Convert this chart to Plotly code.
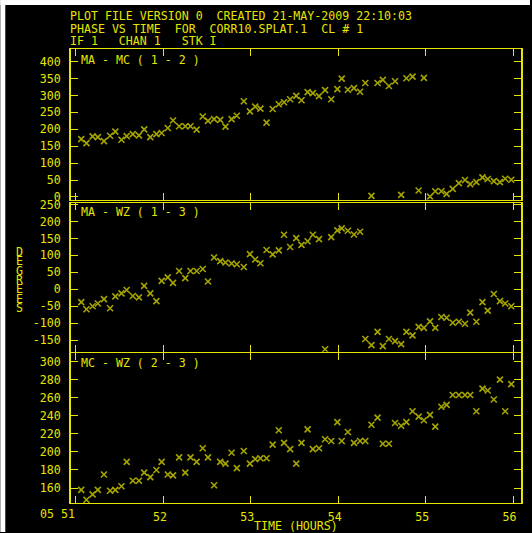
import plotly.graph_objects as go

# ---- data -------------------------------------------------------------
times = [51.06, 51.12, 51.19, 51.25, 51.32, 51.39, 51.45, 51.52, 51.58, 51.65, 51.72, 51.78, 51.85, 51.92, 51.98,
         52.05, 52.11, 52.18, 52.25, 52.31, 52.38, 52.45, 52.51, 52.58, 52.65, 52.71, 52.78, 52.84, 52.92, 52.99,
         53.05, 53.11, 53.18, 53.25, 53.32, 53.38, 53.45, 53.52, 53.58, 53.65, 53.71, 53.78, 53.85, 53.92, 53.99,
         54.04, 54.11, 54.18, 54.25, 54.31, 54.38, 54.45, 54.51, 54.58, 54.65, 54.72, 54.78, 54.85, 54.92, 54.98,
         55.05, 55.11, 55.18, 55.24, 55.31, 55.38, 55.45, 55.51, 55.58, 55.65, 55.71, 55.78, 55.85, 55.91, 55.98]

phase_ma_mc = [171, 159, 179, 177, 165, 181, 193, 169, 180, 186, 182, 200, 177, 186, 189,
               204, 226, 209, 209, 209, 199, 238, 225, 230, 228, 208, 230, 240, 283, 253,
               267, 261, 220, 260, 274, 280, 289, 299, 286, 310, 307, 298, 316, 289, 319,
               350, 317, 322, 311, 337, 3, 337, 346, 328, 342, 6, 351, 356, 19, 352,
               1, 17, 17, 9, 24, 41, 50, 38, 44, 58, 53, 47, 44, 54, 51]

phase_ma_wz = [-38, -59, -50, -42, -29, -56, -21, -12, -2, -20, -24, 10, -12, -35, 25,
               35, 19, 54, 33, 54, 54, 60, 23, 94, 83, 79, 76, 74, 66, 104,
               88, 77, 116, 103, 115, 161, 125, 151, 131, 142, 161, 148, -177, 154, 174,
               180, 173, 162, 170, -147, -165, -126, -168, -147, -153, -162, -126, -136, -111, -114,
               -95, -114, -82, -84, -99, -96, -102, -69, -96, -38, -63, -14, -35, -42, -50]

phase_mc_wz = [158, 147, 153, 158, 175, 157, 158, 162, 189, 168, 168, 177, 172, 180, 189,
               175, 174, 194, 177, 194, 189, 204, 194, 163, 189, 187, 199, 182, 201, 187,
               192, 193, 193, 208, 224, 210, 203, 187, 210, 225, 203, 204, 214, 212, 233,
               212, 222, 210, 212, 212, 230, 238, 209, 209, 232, 229, 233, 245, 239, 235,
               241, 228, 250, 252, 263, 263, 263, 263, 245, 270, 268, 258, 280, 245, 275]

panel_labels = ["MA - MC ( 1 - 2 )", "MA - WZ ( 1 - 3 )", "MC - WZ ( 2 - 3 )"]
header_lines = ["PLOT FILE VERSION 0  CREATED 21-MAY-2009 22:10:03",
                "PHASE VS TIME  FOR  CORR10.SPLAT.1  CL # 1",
                "IF 1   CHAN 1   STK I"]
x_tickvals = [51, 52, 53, 54, 55, 56]
x_ticktext = ["", "52", "53", "54", "55", "56"]
first_x_label = "05 51"
y1_ticks = [0, 50, 100, 150, 200, 250, 300, 350, 400]
y2_ticks = [-150, -100, -50, 0, 50, 100, 150, 200, 250]
y3_ticks = [160, 180, 200, 220, 240, 260, 280, 300]
y_title = "DEGREES"
x_title = "TIME (HOURS)"

# ---- style ------------------------------------------------------------
FRAME = "#e6e600"
TEXT = "#e6e600"
MARK = "#a4a400"
FONT = "DejaVu Sans Mono"
FS = 11.6

W, H = 532, 533
ML, MR, MT, MB = 71, 9, 49, 29
PW, PH = W - ML - MR, H - MT - MB


def px2x(px):
    return (px - ML) / PW


def py2y(py):
    return (H - MB - py) / PH


def nb(s):
    return s.replace(" ", "\u00a0")


fig = go.Figure()
series = [phase_ma_mc, phase_ma_wz, phase_mc_wz]
for i, vals in enumerate(series):
    fig.add_trace(go.Scatter(
        x=times, y=vals, mode="markers",
        xaxis="x" if i == 0 else f"x{i+1}",
        yaxis="y" if i == 0 else f"y{i+1}",
        marker=dict(symbol="x-thin", size=6, color=MARK,
                    line=dict(color=MARK, width=1.6)),
        showlegend=False, hoverinfo="skip"))

# panel 1/2 separated by a double line, panel 2/3 share a single line
domains = [[py2y(200.2), 1.0], [py2y(352.5), py2y(203.2)], [0.0, py2y(353.5)]]
yranges = [[-8.6, 437.5], [-184.8, 255.3], [143.4, 309.7]]
yticks = [y1_ticks, y2_ticks, y3_ticks]
xrange_ = [50.943, 56.091]

common_axis = dict(showgrid=False, zeroline=False, showline=True, linecolor=FRAME,
                   mirror="ticks", ticks="inside", tickcolor=FRAME,
                   tickwidth=1.3, ticklen=7,
                   tickfont=dict(family=FONT, size=FS, color=TEXT))

layout = dict(width=W, height=H, autosize=False,
              margin=dict(l=ML, r=MR, t=MT, b=MB, pad=0),
              paper_bgcolor="black", plot_bgcolor="black",
              font=dict(family=FONT, size=FS, color=TEXT))

for i in range(3):
    xa = "xaxis" if i == 0 else f"xaxis{i+1}"
    ya = "yaxis" if i == 0 else f"yaxis{i+1}"
    yid = "y" if i == 0 else f"y{i+1}"
    xid = "x" if i == 0 else f"x{i+1}"
    layout[xa] = dict(common_axis, linewidth=1, domain=[0, 1], range=xrange_, anchor=yid,
                      tickvals=x_tickvals,
                      ticktext=[nb(t + " ") if t else "" for t in x_ticktext],
                      showticklabels=(i == 2), ticklabelstandoff=3)
    layout[ya] = dict(common_axis, linewidth=2, domain=domains[i], range=yranges[i], anchor=xid,
                      tickvals=yticks[i], ticktext=[str(v) for v in yticks[i]],
                      ticklabelstandoff=6)

fig.update_layout(**layout)

ann = []
# header
for k, line in enumerate(header_lines):
    ann.append(dict(text=nb(line), xref="paper", yref="paper", x=px2x(68.3),
                    y=py2y(16 + 12.5 * k), xanchor="left", yanchor="middle",
                    showarrow=False, font=dict(family=FONT, size=FS, color=TEXT)))
# panel labels
label_py = [60, 212.3, 363.3]
for lab, py in zip(panel_labels, label_py):
    ann.append(dict(text=nb(lab), xref="paper", yref="paper", x=px2x(79.5),
                    y=py2y(py), xanchor="left", yanchor="middle", showarrow=False,
                    font=dict(family=FONT, size=FS, color=TEXT)))
# vertical y title: letters stacked tightly (small line spacing, full-size glyphs)
stacked = "<br>".join(f"<span style='font-size:{FS}px'>{ch}</span>" for ch in y_title)
ann.append(dict(text=stacked, xref="paper", yref="paper", x=px2x(19),
                y=py2y(280.5), xanchor="center", yanchor="middle",
                showarrow=False, font=dict(family=FONT, size=7.2, color=TEXT)))
# x title
ann.append(dict(text=nb(x_title), xref="paper", yref="paper", x=px2x(297),
                y=py2y(527), xanchor="center", yanchor="middle", showarrow=False,
                font=dict(family=FONT, size=FS, color=TEXT)))
# first x tick label
ann.append(dict(text=nb(first_x_label), xref="x3", yref="paper", x=x_tickvals[0],
                y=py2y(515), xanchor="right", yanchor="middle", xshift=1.5,
                showarrow=False, font=dict(family=FONT, size=FS, color=TEXT)))
fig.update_layout(annotations=ann)

# white border strips at the top and left of the screenshot
fig.update_layout(shapes=[
    dict(type="rect", xref="paper", yref="paper", x0=px2x(0), x1=px2x(5),
         y0=py2y(H), y1=py2y(0), fillcolor="white", line=dict(width=0), layer="above"),
    dict(type="rect", xref="paper", yref="paper", x0=px2x(0), x1=px2x(W),
         y0=py2y(5), y1=py2y(0), fillcolor="white", line=dict(width=0), layer="above"),
])

fig.write_html("out.html")
